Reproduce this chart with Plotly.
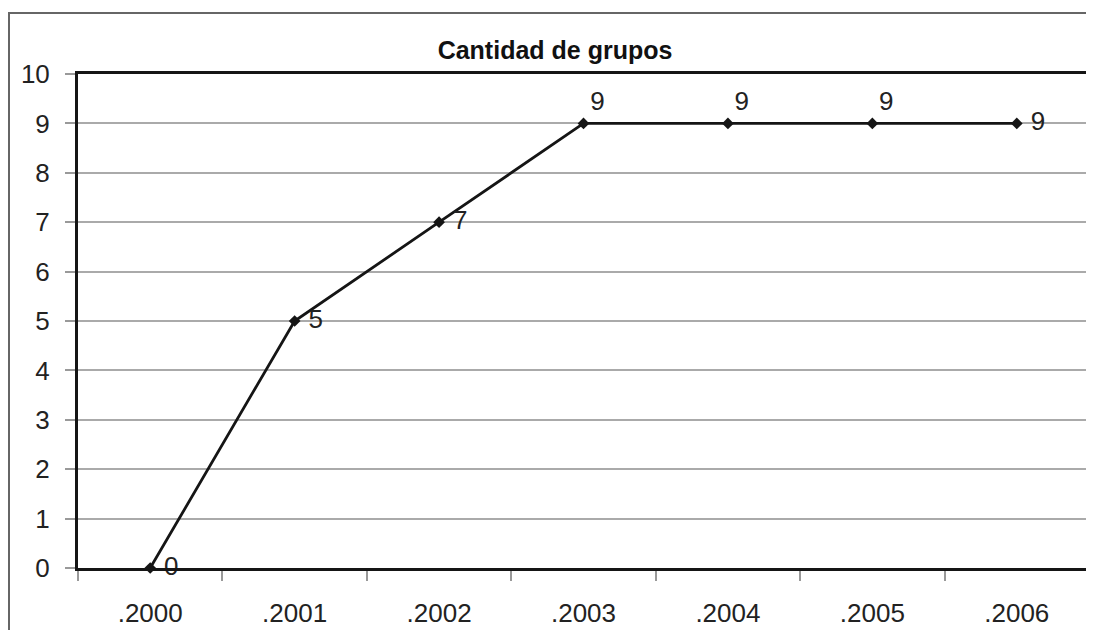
import plotly.graph_objects as go

YEARS = [".2000", ".2001", ".2002", ".2003", ".2004", ".2005", ".2006"]
GROUPS = [0, 5, 7, 9, 9, 9, 9]
LABEL_POS = ["middle right", "middle right", "middle right",
             "top right", "top right", "top right", "middle right"]

# page has an 8px body margin, so the figure is sized to fit inside it
W, H = 1086, 622
ML, MR, MT, MB = 70, 5, 66, 62
PW, PH = W - ML - MR, H - MT - MB

fig = go.Figure()
fig.add_trace(go.Scatter(
    x=YEARS, y=GROUPS, mode="lines+markers+text",
    line=dict(color="#151515", width=2.8),
    marker=dict(symbol="diamond", size=9, color="#151515"),
    text=[(" " if p == "middle right" else "") + str(v)
          for v, p in zip(GROUPS, LABEL_POS)],
    textposition=LABEL_POS,
    textfont=dict(size=26, color="#222222", family="Liberation Sans"),
    cliponaxis=False, showlegend=False))

# outer frame around the whole chart
fig.add_shape(type="rect", xref="paper", yref="paper",
              x0=(1 - ML) / PW, x1=(W + 5 - ML) / PW,
              y0=-(MB + 10) / PH, y1=1 + (MT - 5) / PH,
              line=dict(color="#666666", width=2), layer="below")

fig.update_layout(
    width=W, height=H,
    margin=dict(l=ML, r=MR, t=MT, b=MB),
    paper_bgcolor="white", plot_bgcolor="white",
    font=dict(family="Liberation Sans", color="#222222"),
    title=dict(text="<b>Cantidad de grupos</b>", x=(555 - 8) / W, xanchor="center",
               y=1 - 42 / H, yanchor="middle",
               font=dict(size=25, color="#111111")),
    xaxis=dict(type="category", range=[-0.5, 6.5], showgrid=False,
               showline=True, mirror=True, linecolor="#151515", linewidth=3,
               ticks="outside", tickson="boundaries", ticklen=10,
               tickcolor="#999999", tickwidth=1.5, ticklabelstandoff=20,
               tickfont=dict(size=26, color="#222222"), zeroline=False,
               automargin=False),
    yaxis=dict(range=[0, 10], dtick=1, showgrid=True, gridcolor="#aaaaaa",
               gridwidth=1.5, showline=True, mirror=True, linecolor="#151515",
               linewidth=3, ticks="outside", ticklen=10, tickcolor="#999999",
               tickwidth=1.5, ticklabelstandoff=10,
               tickfont=dict(size=26, color="#222222"), zeroline=False,
               automargin=False),
)

fig.write_html("out.html")
